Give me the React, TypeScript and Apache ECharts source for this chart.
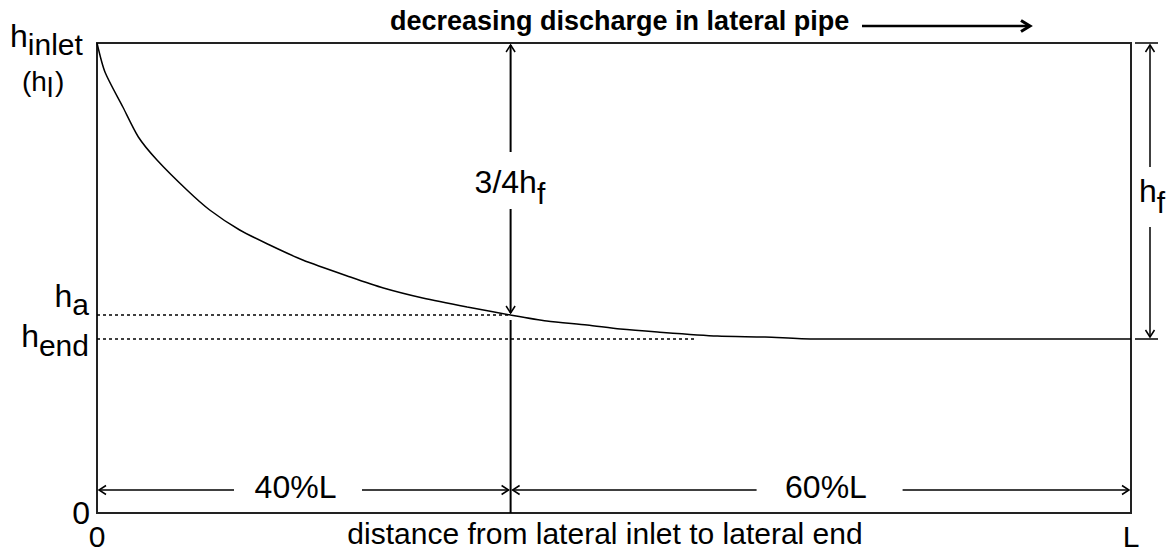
import React, { useEffect, useRef } from "react";
import * as echarts from "echarts";

// ---- data (distance as % of lateral length L, head in arbitrary units) ----
const distancePct = [0, 0.77, 2.5, 4.0, 5.8, 8.7, 10.9, 13.8, 16.7, 19.9, 24.5, 27.7, 31.5, 35.8, 40, 43.5, 47.4, 50.6, 54.2, 60, 64.6, 69.2, 100];
const headValues = [470, 441, 406, 376, 353, 323, 303, 283, 268, 253, 236, 225, 215, 206, 198, 192, 188, 184, 181, 177, 176, 174, 174];
const H_INLET = 470;
const H_A = 198;
const H_END = 174;
const SPLIT_PCT = 40;
const H_END_DOT_END_PCT = 57.8;
const DIM_Y = 23; // level of the 40%L / 60%L dimension arrows
const xTickValues = [0, 100];
const xTickLabels = ["0", "L"];
const yTickValues = [0];
const yTickLabels = ["0"];
const leftPartLabel = "40%L";
const rightPartLabel = "60%L";
const xTitle = "distance from lateral inlet to lateral end";
const topNote = "decreasing discharge in lateral pipe";

const FONT = "'Liberation Sans', Arial, Helvetica, sans-serif";
const INK = "#000";

export default function App() {
  const ref = useRef<HTMLDivElement>(null);

  useEffect(() => {
    if (!ref.current) return;
    const chart = echarts.init(ref.current, null, { renderer: "svg" });
    const option: any = {
      animation: false,
      backgroundColor: "#fff",
      grid: {
        left: 97,
        right: 45,
        top: 43,
        bottom: 39,
        containLabel: false,
        outerBoundsMode: "none",
        show: true,
        borderColor: "#222",
        borderWidth: 2,
        backgroundColor: "transparent",
      },
      xAxis: {
        type: "value",
        min: 0,
        max: 100,
        interval: 100,
        axisLine: { show: false },
        axisTick: { show: false },
        splitLine: { show: false },
        axisLabel: {
          margin: 8,
          fontSize: 30,
          fontFamily: FONT,
          color: INK,
          formatter: (v: number) => {
            const i = xTickValues.indexOf(v);
            return i >= 0 ? xTickLabels[i] : "";
          },
        },
        name: xTitle,
        nameLocation: "middle",
        nameGap: 6,
        nameMoveOverlap: false,
        nameTextStyle: { fontSize: 30, lineHeight: 28, fontFamily: FONT, color: INK, padding: [0, 18, 0, 0] },
      },
      yAxis: {
        type: "value",
        min: 0,
        max: H_INLET,
        interval: H_INLET,
        axisLine: { show: false },
        axisTick: { show: false },
        splitLine: { show: false },
        axisLabel: {
          margin: 7,
          fontSize: 32,
          fontFamily: FONT,
          color: INK,
          formatter: (v: number) => {
            const i = yTickValues.indexOf(v);
            return i >= 0 ? yTickLabels[i] : "";
          },
        },
      },
      series: [
        {
          type: "line",
          data: distancePct.map((x, i) => [x, headValues[i]]),
          showSymbol: false,
          smooth: 0.25,
          lineStyle: { color: INK, width: 1.5 },
          silent: true,
          markLine: {
            silent: true,
            symbol: "none",
            label: { show: false },
            lineStyle: { color: INK, width: 1.5, type: [3, 3] },
            emphasis: { disabled: true },
            data: [
              [{ coord: [0, H_A] }, { coord: [SPLIT_PCT, H_A] }],
              [{ coord: [0, H_END] }, { coord: [H_END_DOT_END_PCT, H_END] }],
            ],
          },
        },
      ],
    };
    chart.setOption(option);

    const P = (x: number, y: number) => chart.convertToPixel({ seriesIndex: 0 }, [x, y]) as number[];
    const [x0, yBottom] = P(0, 0);
    const [xEnd] = P(100, 0);
    const [xSplit] = P(SPLIT_PCT, 0);
    const yI = P(0, H_INLET)[1];
    const yA = P(0, H_A)[1];
    const yE = P(0, H_END)[1];
    const yDim = P(0, DIM_Y)[1];

    const line = (x1: number, y1: number, x2: number, y2: number, w = 1.5) => ({
      type: "line",
      silent: true,
      shape: { x1, y1, x2, y2 },
      style: { stroke: INK, lineWidth: w },
    });
    const head = (tx: number, ty: number, dir: "up" | "down" | "left" | "right", len = 7, half = 4.5, w = 1.5) => {
      let pts: number[][];
      if (dir === "up") pts = [[tx - half, ty + len], [tx, ty], [tx + half, ty + len]];
      else if (dir === "down") pts = [[tx - half, ty - len], [tx, ty], [tx + half, ty - len]];
      else if (dir === "left") pts = [[tx + len, ty - half], [tx, ty], [tx + len, ty + half]];
      else pts = [[tx - len, ty - half], [tx, ty], [tx - len, ty + half]];
      return { type: "polyline", silent: true, shape: { points: pts }, style: { stroke: INK, lineWidth: w, fill: "none" } };
    };
    const subText = (x: number, y: number, main: string, sub: string, align: string, mainSize: number, subSize: number, drop: number) => ({
      type: "text",
      silent: true,
      x,
      y,
      style: {
        text: `{m|${main}}{s|${sub}}`,
        align,
        verticalAlign: "middle",
        fill: INK,
        fontFamily: FONT,
        rich: {
          m: { fontSize: mainSize, fontFamily: FONT, fill: INK },
          s: { fontSize: subSize, fontFamily: FONT, fill: INK, padding: [drop * 2, 0, 0, 0] },
        },
      },
    });
    const plainText = (x: number, y: number, t: string, size: number, align: string, weight = "normal") => ({
      type: "text",
      silent: true,
      x,
      y,
      style: { text: t, fontSize: size, fontFamily: FONT, fontWeight: weight, fill: INK, align, verticalAlign: "middle" },
    });

    const xRightDim = xEnd + 19;
    const graphic: any[] = [
      // vertical divider at 40% L with 3/4 hf dimension
      line(xSplit, yI + 2, xSplit, yI + 109, 2),
      line(xSplit, yI + 166, xSplit, yA - 2, 2),
      line(xSplit, yA + 5, xSplit, yBottom, 2),
      head(xSplit, yI + 2, "up"),
      head(xSplit, yA - 2, "down"),
      subText(xSplit - 36, yI + 139, "3/4h", "f", "left", 32, 30, 11),
      // right hf dimension
      line(xEnd + 4, yI, xEnd + 27, yI),
      line(xEnd + 4, yE, xEnd + 27, yE),
      line(xRightDim, yI + 2, xRightDim, yI + 124),
      line(xRightDim, yI + 184, xRightDim, yE - 2),
      head(xRightDim, yI + 2, "up"),
      head(xRightDim, yE - 2, "down"),
      subText(xEnd + 8, yI + 148, "h", "f", "left", 32, 30, 11),
      // bottom dimensions
      line(x0 + 2, yDim, x0 + 137, yDim),
      line(x0 + 265, yDim, xSplit - 2, yDim),
      head(x0 + 2, yDim, "left"),
      head(xSplit - 2, yDim, "right"),
      plainText(P(19.2, 0)[0], yDim - 3, leftPartLabel, 32, "center"),
      line(xSplit + 2, yDim, xSplit + 246, yDim),
      line(xSplit + 392, yDim, xEnd - 2, yDim),
      head(xSplit + 2, yDim, "left"),
      head(xEnd - 2, yDim, "right"),
      plainText(P(70.5, 0)[0], yDim - 3, rightPartLabel, 32, "center"),
      // y labels with subscripts
      subText(10, yI - 7, "h", "inlet", "left", 32, 30, 8),
      subText(22, yI + 38, "(h", "l", "left", 28, 28, 6),
      {
        type: "text",
        silent: true,
        x: 55,
        y: yI + 38,
        style: { text: ")", fontSize: 28, fontFamily: FONT, fill: INK, align: "left", verticalAlign: "middle" },
      },
      subText(x0 - 8, yA - 19, "h", "a", "right", 32, 30, 8),
      subText(x0 - 8, yE - 3, "h", "end", "right", 32, 30, 9),
      // top note with arrow
      plainText(390, 21, topNote, 27, "left", "bold"),
      line(862, 26, 1028, 26, 2.5),
      head(1030, 26, "right", 9, 5.5, 3),
    ];
    chart.setOption({ graphic });

    return () => chart.dispose();
  }, []);

  return (
    <div
      ref={ref}
      style={{ position: "fixed", left: 0, top: 0, width: 1176, height: 552, background: "#fff" }}
    />
  );
}
